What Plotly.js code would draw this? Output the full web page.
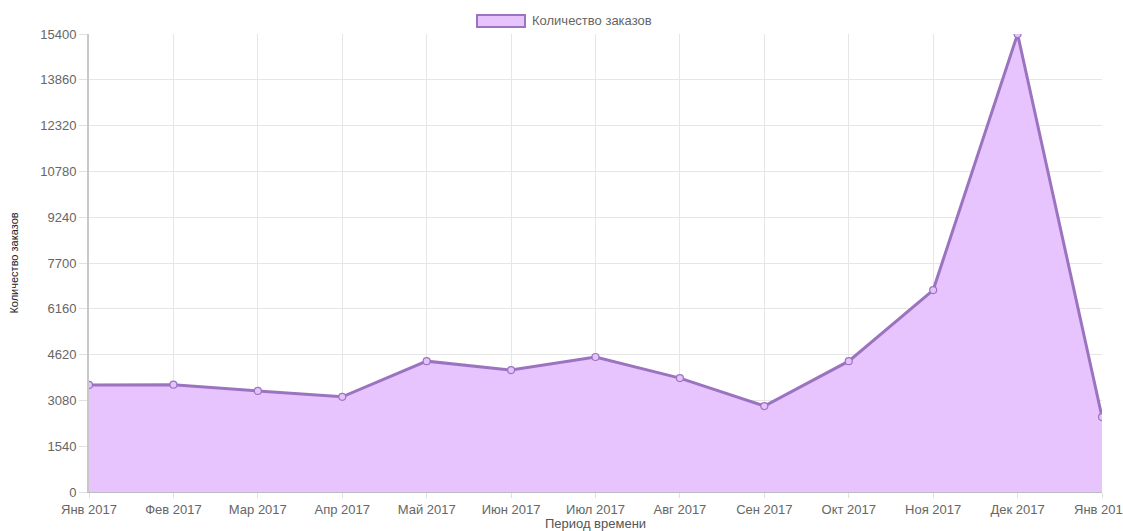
<!DOCTYPE html>
<html>
<head>
<meta charset="utf-8">
<script src="https://cdn.plot.ly/plotly-3.0.1.min.js"></script>
<style>
html,body{margin:0;padding:0;background:#fff;overflow:hidden;}
#chart{width:1123px;height:531px;}
</style>
</head>
<body>
<div id="chart"></div>
<script>
const months = ["Янв 2017","Фев 2017","Мар 2017","Апр 2017","Май 2017","Июн 2017","Июл 2017","Авг 2017","Сен 2017","Окт 2017","Ноя 2017","Дек 2017","Янв 2018"];
const orders = [3600, 3610, 3400, 3200, 4400, 4100, 4540, 3830, 2890, 4400, 6790, 15400, 2520];
const yTicks = [0,1540,3080,4620,6160,7700,9240,10780,12320,13860,15400];
const seriesName = "Количество заказов";
const xTitle = "Период времени";
const yTitle = "Количество заказов";

const lineColor = "#9b74c0";
const fillColor = "rgba(232,196,255,1)";

const trace = {
  x: months.map((m,i)=>i),
  y: orders,
  type: "scatter",
  mode: "lines+markers",
  name: seriesName,
  showlegend: false,
  fill: "tozeroy",
  fillcolor: fillColor,
  line: {color: lineColor, width: 3},
  marker: {size: 7, color: "#e6c2fd", line: {color: lineColor, width: 1.2}},
  hoverinfo: "x+y"
};

const layout = {
  width: 1123, height: 531,
  margin: {l: 89, r: 21, t: 34, b: 39},
  paper_bgcolor: "#fff", plot_bgcolor: "#fff",
  font: {family: "Liberation Sans, Arial, sans-serif", size: 13, color: "#666"},
  showlegend: false,
  xaxis: {
    range: [0, 12],
    tickmode: "array",
    tickvals: months.map((m,i)=>i),
    ticktext: months,
    ticklabeloverflow: "allow",
    showgrid: true, gridcolor: "#e6e6e6", gridwidth: 1,
    showline: true, linecolor: "#bdbdbd", linewidth: 1,
    ticks: "outside", ticklen: 5, tickcolor: "#e0e0e0",
    tickfont: {size: 13, color: "#666"},
    zeroline: false,
    fixedrange: true,
    automargin: false,
    title: {text: xTitle, font: {size: 13, color: "#555"}}
  },
  yaxis: {
    range: [0, 15400],
    tickmode: "array",
    tickvals: yTicks,
    ticktext: yTicks.map(String),
    showgrid: true, gridcolor: "#e6e6e6", gridwidth: 1,
    showline: true, linecolor: "#c8c8c8", linewidth: 2,
    ticks: "outside", ticklen: 8, tickcolor: "#e0e0e0",
    tickfont: {size: 13, color: "#666"},
    zeroline: false,
    fixedrange: true,
    automargin: false,
    title: {text: yTitle, font: {family: "Liberation Sans, sans-serif", size: 11, color: "#222"}, standoff: 19}
  },
  shapes: [{
    type: "rect", xref: "paper", yref: "paper",
    x0: (477-89)/1013, x1: (525-89)/1013,
    y0: (492-27)/458, y1: (492-15)/458,
    fillcolor: fillColor, line: {color: lineColor, width: 2}
  }],
  annotations: [{
    xref: "paper", yref: "paper",
    x: (530-89)/1013, y: (492-21)/458,
    xanchor: "left", yanchor: "middle",
    text: seriesName, showarrow: false,
    font: {size: 13, color: "#666"}
  }]
};

Plotly.newPlot("chart", [trace], layout, {displayModeBar: false, responsive: false});
</script>
</body>
</html>
